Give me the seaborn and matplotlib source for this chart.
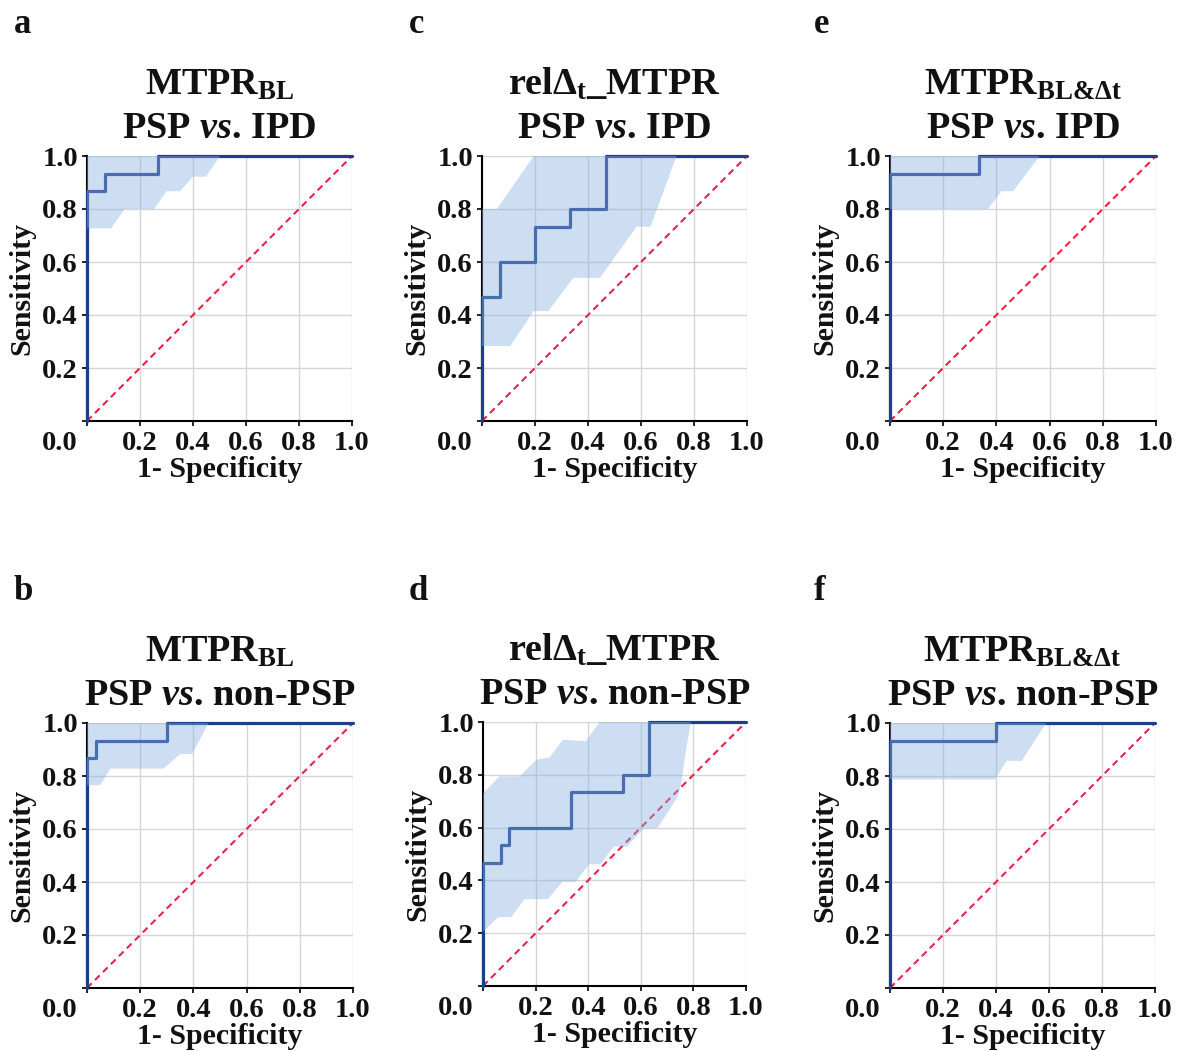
import numpy as np
import pandas as pd
import seaborn as sns
import matplotlib
matplotlib.use("Agg")
import matplotlib.pyplot as plt
from matplotlib.transforms import ScaledTranslation

# ---------------- data ----------------
panel_letters = ["a", "b", "c", "d", "e", "f"]
marker_titles = [r"MTPR$_{\mathregular{BL}}$",
                 r"MTPR$_{\mathregular{BL}}$",
                 r"relΔ$_{\mathregular{t}}$_MTPR",
                 r"relΔ$_{\mathregular{t}}$_MTPR",
                 r"MTPR$_{\mathregular{BL&Δt}}$",
                 r"MTPR$_{\mathregular{BL&Δt}}$"]
comparison_titles = [r"PSP $\mathit{vs}$. IPD", r"PSP $\mathit{vs}$. non-PSP",
                     r"PSP $\mathit{vs}$. IPD", r"PSP $\mathit{vs}$. non-PSP",
                     r"PSP $\mathit{vs}$. IPD", r"PSP $\mathit{vs}$. non-PSP"]

# ROC operating points (1-specificity, sensitivity)
roc_a_fpr = [0, 0, 0.067, 0.267, 1.0]
roc_a_tpr = [0, 0.867, 0.933, 1.0, 1.0]
roc_b_fpr = [0, 0, 0.033, 0.300, 1.0]
roc_b_tpr = [0, 0.867, 0.933, 1.0, 1.0]
roc_c_fpr = [0, 0, 0.067, 0.200, 0.333, 0.467, 1.0]
roc_c_tpr = [0, 0.467, 0.600, 0.733, 0.800, 1.0, 1.0]
roc_d_fpr = [0, 0, 0.067, 0.100, 0.333, 0.533, 0.633, 1.0]
roc_d_tpr = [0, 0.467, 0.533, 0.600, 0.733, 0.800, 1.0, 1.0]
roc_e_fpr = [0, 0, 0.333, 1.0]
roc_e_tpr = [0, 0.933, 1.0, 1.0]
roc_f_fpr = [0, 0, 0.400, 1.0]
roc_f_tpr = [0, 0.933, 1.0, 1.0]

# confidence band: upper and lower boundaries
ci_a_up_fpr = [0, 0.502]
ci_a_up_tpr = [1.0, 1.0]
ci_a_lo_fpr = [0, 0.090, 0.143, 0.253, 0.300, 0.350, 0.400, 0.449, 0.502]
ci_a_lo_tpr = [0.727, 0.727, 0.800, 0.800, 0.867, 0.867, 0.922, 0.922, 1.0]

ci_b_up_fpr = [0, 0.457]
ci_b_up_tpr = [1.0, 1.0]
ci_b_lo_fpr = [0, 0.050, 0.088, 0.288, 0.351, 0.395, 0.457]
ci_b_lo_tpr = [0.765, 0.765, 0.828, 0.828, 0.883, 0.883, 1.0]

ci_c_up_fpr = [0, 0.056, 0.195, 0.734]
ci_c_up_tpr = [0.800, 0.800, 1.0, 1.0]
ci_c_lo_fpr = [0, 0.107, 0.195, 0.250, 0.345, 0.445, 0.583, 0.636, 0.734]
ci_c_lo_tpr = [0.283, 0.283, 0.415, 0.415, 0.540, 0.540, 0.733, 0.733, 1.0]

ci_d_up_fpr = [0, 0.063, 0.139, 0.203, 0.253, 0.304, 0.392, 0.443, 0.791]
ci_d_up_tpr = [0.730, 0.794, 0.794, 0.857, 0.866, 0.933, 0.927, 1.0, 1.0]
ci_d_lo_fpr = [0, 0.057, 0.108, 0.157, 0.247, 0.302, 0.352, 0.403, 0.447,
               0.497, 0.547, 0.610, 0.665, 0.741, 0.753, 0.772, 0.791]
ci_d_lo_tpr = [0.205, 0.260, 0.262, 0.328, 0.330, 0.394, 0.394, 0.461, 0.461,
               0.528, 0.528, 0.595, 0.600, 0.718, 0.762, 0.895, 1.0]

ci_e_up_fpr = [0, 0.5625]
ci_e_up_tpr = [1.0, 1.0]
ci_e_lo_fpr = [0, 0.369, 0.419, 0.4625, 0.5625]
ci_e_lo_tpr = [0.800, 0.800, 0.867, 0.867, 1.0]

ci_f_up_fpr = [0, 0.590]
ci_f_up_tpr = [1.0, 1.0]
ci_f_lo_fpr = [0, 0.396, 0.440, 0.497, 0.590]
ci_f_lo_tpr = [0.787, 0.787, 0.857, 0.857, 1.0]

tick_values = [0.0, 0.2, 0.4, 0.6, 0.8, 1.0]
tick_labels = ["0.0", "0.2", "0.4", "0.6", "0.8", "1.0"]

rocs = {"a": (roc_a_fpr, roc_a_tpr), "b": (roc_b_fpr, roc_b_tpr),
        "c": (roc_c_fpr, roc_c_tpr), "d": (roc_d_fpr, roc_d_tpr),
        "e": (roc_e_fpr, roc_e_tpr), "f": (roc_f_fpr, roc_f_tpr)}
bands = {"a": (ci_a_up_fpr, ci_a_up_tpr, ci_a_lo_fpr, ci_a_lo_tpr),
         "b": (ci_b_up_fpr, ci_b_up_tpr, ci_b_lo_fpr, ci_b_lo_tpr),
         "c": (ci_c_up_fpr, ci_c_up_tpr, ci_c_lo_fpr, ci_c_lo_tpr),
         "d": (ci_d_up_fpr, ci_d_up_tpr, ci_d_lo_fpr, ci_d_lo_tpr),
         "e": (ci_e_up_fpr, ci_e_up_tpr, ci_e_lo_fpr, ci_e_lo_tpr),
         "f": (ci_f_up_fpr, ci_f_up_tpr, ci_f_lo_fpr, ci_f_lo_tpr)}

# ---------------- style ----------------
sns.set_theme(style="whitegrid")
plt.rcParams["font.family"] = ["Liberation Serif", "DejaVu Serif"]
plt.rcParams["font.weight"] = "bold"
plt.rcParams["axes.titleweight"] = "bold"
plt.rcParams["axes.labelweight"] = "bold"
plt.rcParams["mathtext.fontset"] = "custom"
plt.rcParams["mathtext.rm"] = "Liberation Serif:weight=bold"
plt.rcParams["mathtext.bf"] = "Liberation Serif:weight=bold"
plt.rcParams["mathtext.it"] = "Liberation Serif:style=italic:weight=bold"

NAVY = "#1c3f8c"
BAND = "#89b1e0"
DIAG = "#e8234a"
GRID = "#d6d6d6"
TXT = "#111111"

W, H = 1180, 1051
fig = plt.figure(figsize=(W / 100, H / 100), dpi=100)
fig.patch.set_facecolor("white")

# axes pixel boxes: (left, top, width, height)
boxes = {"a": (87, 156, 265, 265), "c": (482, 156, 265, 265), "e": (890, 156, 266, 265),
         "b": (87, 723, 266, 265), "d": (483, 722, 263, 264), "f": (890, 723, 265, 265)}
letter_pos = {"a": (14, 33), "c": (409, 33), "e": (814, 33),
              "b": (14, 600), "d": (409, 600), "f": (814, 600)}

for i, key in enumerate(panel_letters):
    l, t, w, h = boxes[key]
    ax = fig.add_axes([l / W, 1 - (t + h) / H, w / W, h / H])
    ax.set_facecolor("white")
    ax.set_xlim(0, 1)
    ax.set_ylim(0, 1)

    # grid
    ax.grid(True, color=GRID, linewidth=1.0)
    ax.set_axisbelow(True)

    # chance diagonal
    diag = pd.DataFrame({"x": [0.0, 1.0], "y": [0.0, 1.0]})
    sns.lineplot(data=diag, x="x", y="y", ax=ax, color=DIAG, linewidth=1.5,
                 linestyle="--", estimator=None, sort=False, zorder=2)
    ax.lines[-1].set_dashes((3.2, 2.2))

    # ROC curve
    fpr, tpr = rocs[key]
    roc = pd.DataFrame({"fpr": fpr, "tpr": tpr})
    sns.lineplot(data=roc, x="fpr", y="tpr", ax=ax, color=NAVY, linewidth=2.3,
                 estimator=None, sort=False, drawstyle="steps-post", zorder=2.7)
    ax.lines[-1].set_clip_on(False)

    # confidence band on top (semi-transparent)
    ufx, ufy, lfx, lfy = bands[key]
    px = list(ufx) + list(lfx)[::-1]
    py = list(ufy) + list(lfy)[::-1]
    ax.fill(px, py, color=BAND, alpha=0.42, linewidth=0, zorder=3)

    # spines
    for s in ["top", "right"]:
        ax.spines[s].set_visible(False)
    for s in ["left", "bottom"]:
        ax.spines[s].set_visible(True)
        ax.spines[s].set_color("black")
        ax.spines[s].set_linewidth(1.5)

    ax.set_xticks(tick_values)
    ax.set_xticklabels(tick_labels)
    ax.set_yticks(tick_values)
    ax.set_yticklabels([""] + tick_labels[1:])
    ax.tick_params(axis="both", which="major", direction="out", length=3.5, width=1.2,
                   color="black", labelsize=20.5, labelcolor=TXT,
                   bottom=True, left=True)
    ax.tick_params(axis="x", pad=4.0)
    ax.tick_params(axis="y", pad=3.0)
    for lab in ax.get_xticklabels() + ax.get_yticklabels():
        lab.set_fontweight("bold")
    # shift the "0.0" label to the corner
    first = ax.get_xticklabels()[0]
    first.set_transform(first.get_transform() +
                        ScaledTranslation(-27 / 100, 0, fig.dpi_scale_trans))

    ax.set_xlabel("1- Specificity", fontsize=21.5, fontweight="bold", labelpad=0,
                  color=TXT)
    ax.set_ylabel("Sensitivity", fontsize=21.5, fontweight="bold", labelpad=5,
                  color=TXT)

    ax.set_title(marker_titles[i] + "\n" + comparison_titles[i], fontsize=27.5,
                 fontweight="bold", pad=13, color=TXT, linespacing=1.3)

    lx, ly = letter_pos[key]
    fig.text(lx / W, 1 - ly / H, key, fontsize=25, fontweight="bold",
             ha="left", va="baseline", color=TXT)

fig.savefig("out.png", dpi=100, facecolor="white")
